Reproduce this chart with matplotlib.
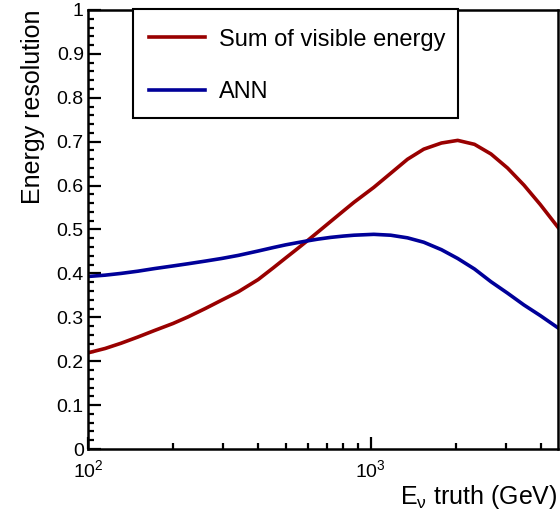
import matplotlib
matplotlib.use("Agg")
import matplotlib.pyplot as plt
from matplotlib.patches import Rectangle
from matplotlib.ticker import MultipleLocator, LogLocator, LogFormatterMathtext, NullFormatter

plt.rcParams['font.family'] = ['Liberation Sans', 'DejaVu Sans']
plt.rcParams['mathtext.fontset'] = 'custom'
plt.rcParams['mathtext.rm'] = 'Liberation Sans'
plt.rcParams['mathtext.it'] = 'Liberation Sans:italic'

# neutrino energy (GeV) and resolution for the two estimators
energy = [100, 115, 131, 150, 172, 200, 226, 260, 297, 340, 400, 453, 500, 550, 596, 650,
          721, 800, 873, 1026, 1177, 1350, 1541, 1780, 2032, 2330, 2665, 3050, 3487, 3980, 4600]
res_visible = [0.219, 0.229, 0.241, 0.255, 0.270, 0.286, 0.301, 0.320, 0.339, 0.358, 0.386,
               0.413, 0.435, 0.456, 0.474, 0.494, 0.518, 0.542, 0.562, 0.596, 0.628, 0.660,
               0.683, 0.697, 0.703, 0.694, 0.672, 0.640, 0.601, 0.557, 0.505]
res_ann = [0.393, 0.396, 0.400, 0.405, 0.411, 0.417, 0.422, 0.428, 0.434, 0.441, 0.451,
           0.459, 0.465, 0.470, 0.474, 0.478, 0.482, 0.485, 0.487, 0.489, 0.487, 0.481,
           0.471, 0.454, 0.434, 0.410, 0.381, 0.355, 0.328, 0.304, 0.276]
labels = ['Sum of visible energy', 'ANN']

W, H = 560, 521
fig = plt.figure(figsize=(W/100, H/100), dpi=100)
ax = fig.add_axes([88/W, 1 - 449/H, (558-88)/W, (449-10)/H])

ax.plot(energy, res_visible, color='#990000', lw=2.6, label=labels[0])
ax.plot(energy, res_ann, color='#000099', lw=2.6, label=labels[1])

ax.set_xscale('log')
ax.set_xlim(100, 4600)
ax.set_ylim(0, 1)

ax.yaxis.set_major_locator(MultipleLocator(0.1))
ax.yaxis.set_minor_locator(MultipleLocator(0.02))
ax.yaxis.set_major_formatter(plt.FuncFormatter(lambda v, p: '%g' % round(v, 2)))
ax.xaxis.set_major_locator(LogLocator(base=10))
ax.xaxis.set_major_formatter(LogFormatterMathtext())
ax.xaxis.set_minor_locator(LogLocator(base=10, subs=range(2, 10)))
ax.xaxis.set_minor_formatter(NullFormatter())

ax.tick_params(which='both', direction='in', top=False, right=False, width=1.6, labelsize=14)
ax.tick_params(which='major', length=9)
ax.tick_params(which='minor', length=4.5)
ax.tick_params(axis='y', pad=3)
ax.tick_params(axis='x', pad=7)
for s in ax.spines.values():
    s.set_linewidth(1.8)

ax.set_ylabel('Energy resolution', fontsize=18, loc='top', labelpad=8)
ax.set_xlabel(r'E$_{\mathrm{\nu}}$ truth (GeV)', fontsize=18, loc='right', labelpad=2)

# legend box drawn separately so its size is independent of the entries
box = Rectangle((133/W, 1 - 118/H), (458-133)/W, (118-9)/H, transform=fig.transFigure,
                facecolor='white', edgecolor='black', lw=1.5, zorder=4, clip_on=False)
ax.add_patch(box)
leg = ax.legend(loc='upper left', bbox_to_anchor=(125/W, 1 - 5/H),
                bbox_transform=fig.transFigure, fontsize=17, frameon=False,
                handlelength=2.4, handletextpad=0.6, labelspacing=1.3,
                borderpad=1.0, borderaxespad=0)
leg.set_zorder(5)

fig.savefig('out.png', dpi=100)
